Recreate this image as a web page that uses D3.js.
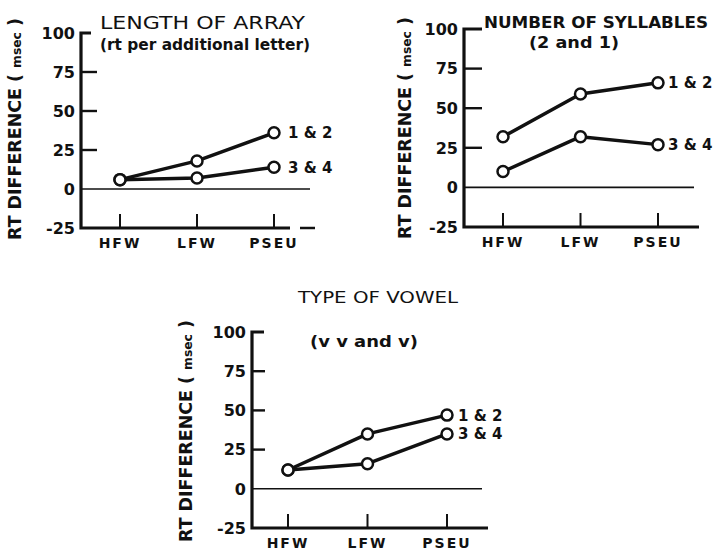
<!DOCTYPE html>
<html>
<head>
<meta charset="utf-8">
<script src="https://cdn.jsdelivr.net/npm/d3@7"></script>
<style>
  html, body { margin: 0; padding: 0; background: #fff; }
  svg { display: block; }
  text { fill: #111; font-family: "DejaVu Sans", "Liberation Sans", sans-serif; }
</style>
</head>
<body>
<svg id="chart" width="716" height="552"></svg>
<script>
// Word classes on the x axis
const categories = ["HFW", "LFW", "PSEU"];
// Y axis tick values (RT difference, msec)
const yTicks = [-25, 0, 25, 50, 75, 100];
const yTickLabels = ["-25", "0", "25", "50", "75", "100"];
const seriesNames = ["1 & 2", "3 & 4"];

// RT differences per panel, one array per series
const lengthPair12 = [6, 18, 36];
const lengthPair34 = [6, 7, 14];
const syllablePair12 = [32, 59, 66];
const syllablePair34 = [10, 32, 27];
const vowelPair12 = [12, 35, 47];
const vowelPair34 = [12, 16, 35];

const panelTitles = ["LENGTH OF ARRAY", "NUMBER OF SYLLABLES", "TYPE OF VOWEL"];
const panelSubtitles = ["(rt per additional letter)", "(2 and 1)", "(v v and v)"];

// Layout of each panel (pixel frames, title positions)
const panels = [
  {
    title: panelTitles[0], subtitle: panelSubtitles[0],
    series: [lengthPair12, lengthPair34],
    axisX: 81, yTop: 33, yBottom: 228, xFirst: 120, xLast: 274,
    axisEnd: 290, axisDash: [300, 315], zeroEnd: 310, tickLen: 16, topTick: 10,
    labelDx: 14,
    titleX: 100, titleY: 29, titleLen: 205, titleWeight: "normal", titleSize: 17,
    subX: 100, subY: 50, subLen: 210, subSize: 15,
    ylabX: 15, ylabY: 129
  },
  {
    title: panelTitles[1], subtitle: panelSubtitles[1],
    series: [syllablePair12, syllablePair34],
    axisX: 464, yTop: 29, yBottom: 227, xFirst: 503, xLast: 658,
    axisEnd: 699, axisDash: null, zeroEnd: 694, tickLen: 18, topTick: 18,
    labelDx: 10,
    titleX: 484, titleY: 28, titleLen: 224, titleWeight: "bold", titleSize: 15,
    subX: 529, subY: 48, subLen: 90, subSize: 16,
    ylabX: 405, ylabY: 128
  },
  {
    title: panelTitles[2], subtitle: panelSubtitles[2],
    series: [vowelPair12, vowelPair34],
    axisX: 252, yTop: 332, yBottom: 528, xFirst: 288, xLast: 447,
    axisEnd: 488, axisDash: null, zeroEnd: 482, tickLen: 13, topTick: 12,
    labelDx: 11,
    titleX: 298, titleY: 303, titleLen: 160, titleWeight: "normal", titleSize: 16,
    subX: 310, subY: 347, subLen: 108, subSize: 15,
    ylabX: 186, ylabY: 431
  }
];

const svg = d3.select("#chart");

panels.forEach(p => {
  const g = svg.append("g");
  const y = d3.scaleLinear().domain([-25, 100]).range([p.yBottom, p.yTop]);
  const x = d3.scalePoint().domain(categories).range([p.xFirst, p.xLast]);

  // Left axis (vertical spine) with top cap and bottom baseline
  g.append("path")
    .attr("d", `M${p.axisX + p.topTick},${y(100)} H${p.axisX} V${y(-25)} H${p.axisEnd}`)
    .attr("fill", "none").attr("stroke", "#111").attr("stroke-width", 3.2)
    .attr("stroke-linejoin", "miter");
  if (p.axisDash) {
    g.append("line")
      .attr("x1", p.axisDash[0]).attr("x2", p.axisDash[1])
      .attr("y1", y(-25)).attr("y2", y(-25))
      .attr("stroke", "#111").attr("stroke-width", 2.5);
  }

  // Short y ticks at 25, 50, 75
  g.selectAll(".ytick").data(yTicks.filter(v => v > 0 && v < 100)).join("line")
    .attr("x1", p.axisX).attr("x2", p.axisX + p.tickLen)
    .attr("y1", d => y(d)).attr("y2", d => y(d))
    .attr("stroke", "#111").attr("stroke-width", 2.4);

  // Zero reference line
  g.append("line")
    .attr("x1", p.axisX).attr("x2", p.zeroEnd)
    .attr("y1", y(0)).attr("y2", y(0))
    .attr("stroke", "#111").attr("stroke-width", 1.6);

  // Y tick labels
  g.selectAll(".ylab").data(yTicks).join("text")
    .attr("x", p.axisX - 6).attr("y", d => y(d))
    .attr("dy", "0.36em").attr("text-anchor", "end")
    .attr("font-size", 16).attr("font-weight", "bold")
    .text((d, i) => yTickLabels[i]);

  // X ticks rising from the bottom axis
  g.selectAll(".xtick").data(categories).join("line")
    .attr("x1", d => x(d)).attr("x2", d => x(d))
    .attr("y1", y(-25)).attr("y2", y(-25) - 14)
    .attr("stroke", "#111").attr("stroke-width", 2);

  // X category labels
  g.selectAll(".xlab").data(categories).join("text")
    .attr("x", d => x(d)).attr("y", y(-25) + 20)
    .attr("text-anchor", "middle")
    .attr("font-size", 14).attr("font-weight", "bold")
    .attr("letter-spacing", 2)
    .text(d => d);

  // Rotated y-axis title
  const yl = g.append("text")
    .attr("transform", `translate(${p.ylabX},${p.ylabY}) rotate(-90)`)
    .attr("text-anchor", "middle").attr("dy", "0.36em")
    .attr("font-size", 17).attr("font-weight", "bold")
    .attr("textLength", 222).attr("lengthAdjust", "spacingAndGlyphs");
  yl.append("tspan").text("RT DIFFERENCE ( ");
  yl.append("tspan").attr("font-size", 12).text("msec");
  yl.append("tspan").text(" )");

  // Panel title and subtitle
  g.append("text")
    .attr("x", p.titleX).attr("y", p.titleY)
    .attr("font-size", p.titleSize).attr("font-weight", p.titleWeight)
    .attr("textLength", p.titleLen).attr("lengthAdjust", "spacingAndGlyphs")
    .text(p.title);
  g.append("text")
    .attr("x", p.subX).attr("y", p.subY)
    .attr("font-size", p.subSize)
    .attr("font-weight", "bold")
    .attr("textLength", p.subLen).attr("lengthAdjust", "spacingAndGlyphs")
    .text(p.subtitle);

  // Series lines with open circle markers
  const line = d3.line().x((d, i) => x(categories[i])).y(d => y(d));
  p.series.forEach(vals => {
    g.append("path")
      .attr("d", line(vals))
      .attr("fill", "none").attr("stroke", "#111").attr("stroke-width", 3.5)
      .attr("stroke-linejoin", "round");
  });
  p.series.forEach((vals, si) => {
    g.selectAll(null).data(vals).join("circle")
      .attr("cx", (d, i) => x(categories[i])).attr("cy", d => y(d))
      .attr("r", 5.5)
      .attr("fill", "#fff").attr("stroke", "#111").attr("stroke-width", 2.5);
    g.append("text")
      .attr("x", x(categories[2]) + p.labelDx).attr("y", y(vals[2]))
      .attr("dy", "0.36em")
      .attr("font-size", 15).attr("font-weight", "bold")
      .text(seriesNames[si]);
  });
});
</script>
</body>
</html>
